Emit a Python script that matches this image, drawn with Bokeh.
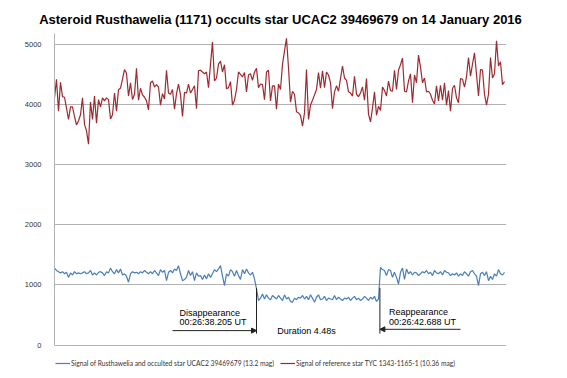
from bokeh.plotting import figure
from bokeh.models import (Range1d, FixedTicker, Legend, LegendItem, Label,
                          Arrow, NormalHead)
from bokeh.embed import file_html
from bokeh.resources import INLINE

TITLE = "Asteroid Rusthawelia (1171) occults star UCAC2 39469679 on 14 January 2016"

# Signal of Rusthawelia + occulted star (blue), one value per frame
target_signal = [
    1280, 1240, 1220, 1200, 1220, 1185, 1210, 1125, 1200, 1165,
    1220, 1185, 1200, 1185, 1200, 1220, 1185, 1200, 1240, 1165,
    1200, 1165, 1210, 1220, 1200, 1155, 1220, 1200, 1280, 1220,
    1185, 1255, 1200, 1265, 1165, 1185, 1145, 1045, 1185, 1220,
    1200, 1210, 1185, 1220, 1200, 1240, 1210, 1185, 1220, 1185,
    1240, 1200, 1155, 1255, 1210, 1240, 1070, 1210, 1240, 1200,
    1265, 1240, 1320, 1185, 1070, 1090, 1125, 1240, 1155, 1220,
    1070, 1200, 1145, 1155, 1090, 1165, 1100, 1185, 1125, 1185,
    1255, 1220, 1265, 1320, 1145, 990, 1185, 1145, 1255, 1220,
    1145, 1240, 1155, 1090, 1255, 1185, 1265, 1200, 1165, 1210, 1100,
    935,
    740, 780, 850, 765, 835, 780, 755, 825, 795, 765,
    825, 780, 740, 835, 765, 795, 725, 710, 780, 755,
    795, 780, 825, 765, 810, 755, 835, 780, 710, 795,
    835, 755, 765, 810, 740, 780, 765, 755, 825, 755,
    795, 765, 740, 780, 765, 795, 740, 780, 810, 755,
    780, 740, 765, 810, 780, 740, 795, 765, 810, 725, 765,
    1290, 1255, 1240, 1155, 1255, 1240, 1125, 1210, 1125, 1015,
    1210, 1280, 1090, 1265, 1185, 1220, 1165, 1210, 1200, 1155,
    1185, 1220, 1200, 1240, 1185, 1210, 1155, 1240, 1200, 1185,
    1220, 1165, 1240, 1210, 1200, 1155, 1185, 1165, 1200, 1145,
    1185, 1155, 1220, 1185, 1145, 1220, 1240, 1185, 1145, 990,
    1185, 1210, 1155, 1220, 1070, 1145, 1090, 1185, 1145, 1255,
    1185, 1165, 1210,
]

# Signal of reference star TYC 1343-1165-1 (red)
reference_signal = [
    4110, 4420, 3890, 4370, 4130, 4120, 3940, 3750, 3960, 3960,
    3800, 3660, 3730, 3830, 4110, 3670, 3560, 3340, 4040, 3750,
    4140, 3690, 4080, 3960, 4110, 4060, 4110, 4080, 3760, 3830,
    4190, 3890, 4250, 4270, 4420, 4580, 4520, 4140, 4360, 4080,
    4170, 4600, 4070, 4270, 4160, 4120, 4060, 3910, 4360, 4390,
    4290, 4330, 4290, 3990, 4180, 4090, 4570, 4190, 4170, 4250,
    3920, 4180, 4340, 4160, 3800, 4200, 4190, 4340, 4190, 4250,
    4310, 3930,
    4560, 4570, 4540, 4510, 4540, 4280, 4670, 5040, 4390, 4440,
    4670, 4720, 4540, 4660, 4260, 4280, 4380, 3990, 4070, 4250,
    4540, 4500, 4460, 4530, 4210, 4490, 4510, 4400, 4540, 4600,
    4280, 4340, 4330, 4080, 4540, 4570, 4060, 4310, 4310, 3920,
    4340, 4250, 4670, 4890, 5100, 4610, 4040, 4220, 4170, 3880,
    3860, 3820, 3640, 3860, 4580, 3750, 3990, 4070, 4160, 4250,
    4530, 4270, 4560, 4280, 4540, 4490, 4360, 3930, 4210, 4310,
    4220, 4430, 4640, 4440, 4400, 4210,
    4190, 4140, 4470, 4170, 4130, 4190, 4290, 4070, 4430, 3840,
    3710, 3940, 4210, 3820, 3970, 3900, 4290, 4230, 4140, 4390,
    4230, 4220, 4570, 4250, 4570, 4660, 4770, 4220, 4210, 4390,
    4510, 4030, 4490, 4360, 4820, 4620, 4360, 4440, 4210, 4220,
    4170, 4070, 4010, 4310, 4060, 4320, 4070, 4360, 3990, 4230,
    3890, 4270, 4320, 4110, 4030, 4430, 4420, 4290, 4460, 4780,
    4470, 4670, 4860, 4500, 4140, 4580, 4570, 4170, 3990, 4170,
    4780, 4440, 4510, 5060, 4640, 4710, 4330, 4380,
]

y_ticks = [0, 1000, 2000, 3000, 4000, 5000]
y_top = 5180

target_label = "Signal of Rusthawelia and occulted star UCAC2 39469679 (13.2 mag)"
reference_label = "Signal of reference star TYC 1343-1165-1 (10.36 mag)"

# event annotations (frame index, signal units)
disappear_x = 101
reappear_x = 162.7
disappear_text = ["Disappearance", "00:26:38.205 UT"]
reappear_text = ["Reappearance", "00:26:42.688 UT"]
duration_text = "Duration 4.48s"

n = len(target_signal)
frames = list(range(n))
frames_ref = list(range(len(reference_signal)))

BLUE = "#4a7ebb"
RED = "#9e2a2f"
GRID = "#b3b3b3"
FONT = "Liberation Sans"

# frame extends below zero so the legend can sit inside it (below the 0 line)
p = figure(width=567, height=378, output_backend="svg", toolbar_location=None,
           x_range=Range1d(0, n), y_range=Range1d(-556, y_top),
           min_border_left=54, min_border_right=61,
           min_border_top=33, min_border_bottom=0)

p.title.text = TITLE
p.title.text_font = FONT
p.title.text_font_size = "13px"
p.title.text_font_style = "bold"
p.title.text_color = "black"
p.title.align = "center"
p.title.standoff = 14

p.outline_line_color = None
p.background_fill_color = "white"
p.xaxis.visible = False
p.xgrid.visible = False
p.ygrid.ticker = FixedTicker(ticks=y_ticks)
p.ygrid.grid_line_color = GRID
p.ygrid.grid_line_width = 1

ya = p.yaxis[0]
ya.ticker = FixedTicker(ticks=y_ticks)
ya.bounds = (0, y_top)
ya.major_tick_line_color = None
ya.minor_tick_line_color = None
ya.axis_line_color = GRID
ya.major_label_standoff = 7
ya.major_label_text_font = FONT
ya.major_label_text_font_size = "7.5px"
ya.major_label_text_color = "#333333"

r_blue = p.line(frames, target_signal, line_color=BLUE, line_width=1.2)
r_red = p.line(frames_ref, reference_signal, line_color=RED, line_width=1.2)

# event markers
v_top, v_bottom = 950, 190
for xv in (disappear_x, reappear_x):
    p.add_layout(Arrow(end=None, x_start=xv, y_start=v_top, x_end=xv, y_end=v_bottom,
                       line_color="#222222", line_width=1))

head = dict(size=5, fill_color="#222222", line_color="#222222")
p.add_layout(Arrow(end=NormalHead(**head), x_start=59, y_start=240,
                   x_end=disappear_x, y_end=240, line_color="#222222", line_width=1))
p.add_layout(Arrow(end=NormalHead(**head), x_start=203, y_start=262,
                   x_end=reappear_x, y_end=262, line_color="#222222", line_width=1))

lab = dict(text_font=FONT, text_font_size="9px", text_color="black",
           text_baseline="middle")
p.add_layout(Label(x=62.5, y=528, text=disappear_text[0], **lab))
p.add_layout(Label(x=62.5, y=379, text=disappear_text[1], **lab))
p.add_layout(Label(x=167.2, y=545, text=reappear_text[0], **lab))
p.add_layout(Label(x=167.2, y=390, text=reappear_text[1], **lab))
p.add_layout(Label(x=126, y=241, text=duration_text, text_align="center", **lab))

legend = Legend(items=[LegendItem(label=target_label, renderers=[r_blue]),
                       LegendItem(label=reference_label, renderers=[r_red])],
                orientation="horizontal", location=(1, 10),
                padding=0, margin=0, spacing=6,
                glyph_width=15, glyph_height=10, label_height=10,
                label_standoff=1,
                label_text_font="Lato",
                label_text_font_size="6.7px", label_text_color="#333333",
                border_line_color=None, background_fill_alpha=0)
p.add_layout(legend)

open("out.html", "w").write(file_html(p, INLINE))
